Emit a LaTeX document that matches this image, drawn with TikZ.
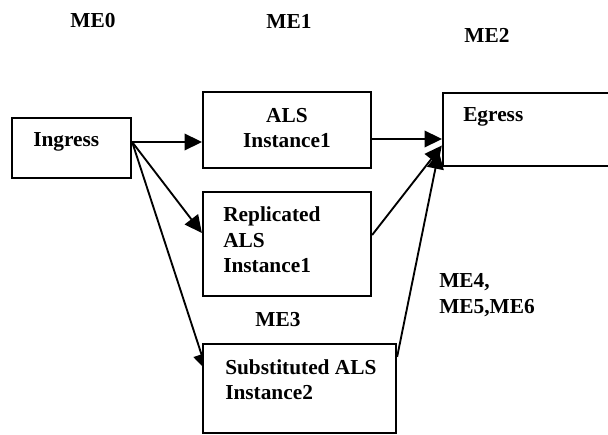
\documentclass[tikz,border=0pt]{standalone}
\usepackage{fontspec}
\setmainfont{Liberation Serif}
\usetikzlibrary{arrows.meta,calc,backgrounds}

\tikzset{
  box/.style={draw, line width=1.7pt, fill=white, inner sep=0pt},
  lbl/.style={font=\bfseries\fontsize{16}{19}\selectfont, inner sep=0pt},
  arr/.style={line width=1.4pt, -{Triangle[length=13pt,width=12.5pt]}}
}

\begin{document}
\begin{tikzpicture}[x=0.75pt,y=-0.75pt]
  \useasboundingbox (0,0) rectangle (608,435);
  \clip (0,0) rectangle (608,435);

  % processing blocks
  \node[box, minimum width=89.25pt, minimum height=45pt]   (ig)  at (71.5,148)  {};
  \node[box, minimum width=126pt,   minimum height=57pt]   (als) at (287,130)   {};
  \node[box, minimum width=126pt,   minimum height=78pt]   (rep) at (287,244)   {};
  \node[box, minimum width=147.75pt,minimum height=54.75pt](eg)  at (541.5,129.5){};
  \node[box, minimum width=144.75pt,minimum height=66.75pt](sub) at (299.5,388.5){};

  % block texts
  \node[lbl, anchor=west] (igt) at (33,142) {Ingress};
  \node[lbl, align=center] (alst) at (287,128) {ALS\\Instance1};
  \node[lbl, anchor=west, align=left] (rept) at (223,240) {Replicated\\ALS\\Instance1};
  \node[lbl, anchor=west] (egt) at (463,117) {Egress};
  \node[lbl, anchor=west, align=left] (subt) at (225,380) {Substituted ALS\\Instance2};

  % engine labels
  \node[lbl] (me0) at (93,21) {ME0};
  \node[lbl] (me1) at (289,21) {ME1};
  \node[lbl] (me2) at (487,35) {ME2};
  \node[lbl] (me3) at (278,320) {ME3};
  \node[lbl, anchor=west, align=left] (me4) at (439,295) {ME4,\\ME5,ME6};

  % data paths (kept under the blocks)
  \begin{pgfonlayer}{background}
    \coordinate (igout) at ($(ig.east)+(0,-6)$);
    \draw[arr] (igout) -- ($(als.west)+(0,12)$);
    \draw[arr] (igout) -- ($(rep.west)+(0,-11)$);
    \draw[arr] (igout) -- ($(sub.north west)+(5,28)$);
    \draw[arr] ($(als.east)+(0,9)$) -- ($(eg.west)+(0,9.5)$);
    \draw[arr] ($(rep.east)+(0,-9)$) -- ($(eg.west)+(0,16)$);
    \draw[arr] ($(sub.north east)+(0,14)$) -- ($(eg.west)+(-3,22)$);
  \end{pgfonlayer}
\end{tikzpicture}
\end{document}
